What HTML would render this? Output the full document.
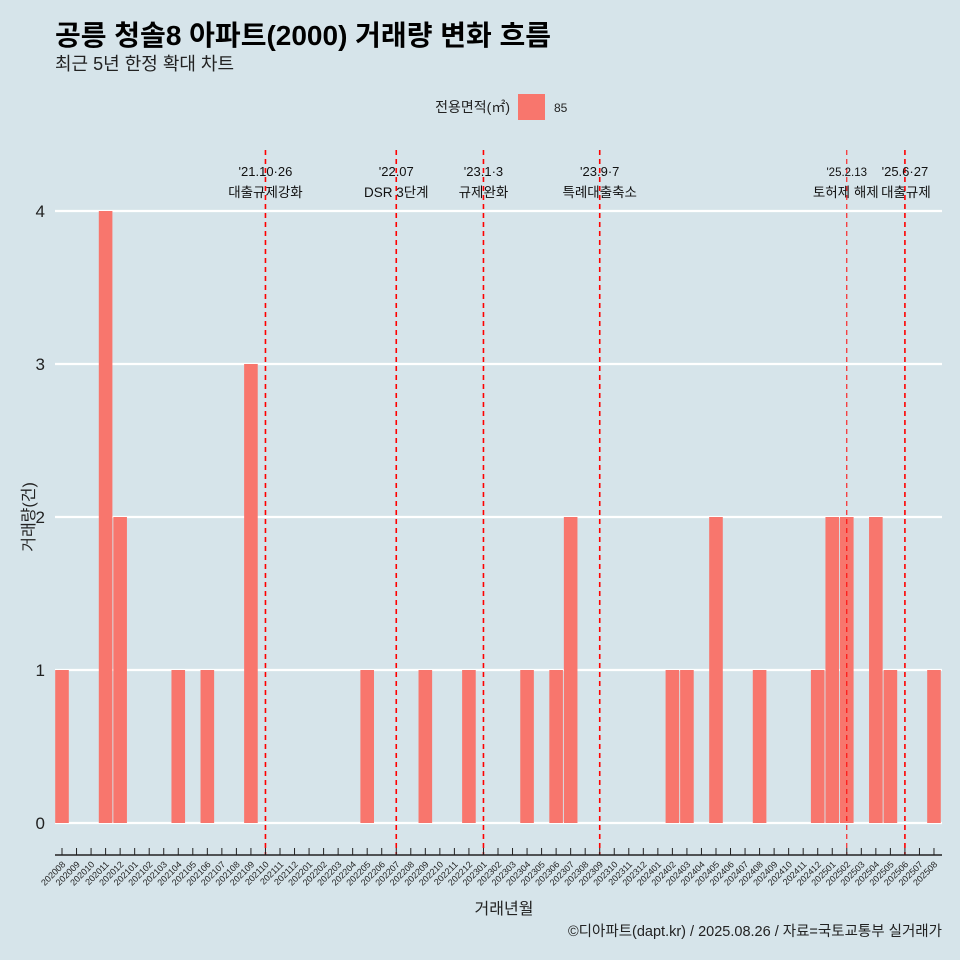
<!DOCTYPE html>
<html><head><meta charset="utf-8"><style>
body{margin:0;background:#d6e4ea;font-family:"Liberation Sans","Noto Sans CJK KR",sans-serif}
</style></head><body>
<svg id="c" width="960" height="960" xmlns="http://www.w3.org/2000/svg" style="display:block">
<rect width="960" height="960" fill="#d6e4ea"/>
<text x="55" y="45" font-size="28" font-weight="bold" fill="#000">공릉 청솔8 아파트(2000) 거래량 변화 흐름</text>
<text x="55" y="70" font-size="18" fill="#222">최근 5년 한정 확대 차트</text>
<text x="510" y="112" font-size="14" text-anchor="end" fill="#222">전용면적(㎡)</text>
<rect x="518" y="94" width="27" height="26" fill="#f8766d"/>
<text x="554" y="112" font-size="12" fill="#222">85</text>
<g id="grid"></g><g id="bars"></g><g id="events"></g><g id="axis"></g>
<text x="504" y="914" font-size="16" text-anchor="middle" fill="#222">거래년월</text>
<text transform="translate(34,517) rotate(-90)" font-size="16" text-anchor="middle" fill="#222">거래량(건)</text>
<text x="942" y="936" font-size="14.5" text-anchor="end" fill="#222">©디아파트(dapt.kr) / 2025.08.26 / 자료=국토교통부 실거래가</text>
</svg>
<script>
const months=[];for(let y=2020;y<=2025;y++)for(let m=1;m<=12;m++){const k=y*100+m;if(k>=202008&&k<=202508)months.push(String(k));}
const barMonths=["202008","202011","202012","202104","202106","202109","202205","202209","202212","202304","202306","202307","202402","202403","202405","202408","202412","202501","202502","202504","202505","202508"];
const barValues=[1,4,2,1,1,3,1,1,1,1,1,2,1,1,2,1,1,2,2,2,1,1];
const yTicks=[0,1,2,3,4];
const eventMonths=["202110","202207","202301","202309","202502","202506"];
const eventDates=["'21.10·26","'22.07","'23.1·3","'23.9·7","'25.2.13","'25.6·27"];
const eventLabels=["대출규제강화","DSR 3단계","규제완화","특례대출축소","토허제 해제","대출규제"];
const NS="http://www.w3.org/2000/svg";
const x0=62,step=14.533,y0=823,unit=153;
const X=m=>x0+months.indexOf(m)*step, Y=v=>y0-v*unit;
function mk(t,a,p){const e=document.createElementNS(NS,t);for(const k in a)e.setAttribute(k,a[k]);p.appendChild(e);return e;}
const grid=document.getElementById('grid'),bars=document.getElementById('bars'),ev=document.getElementById('events'),ax=document.getElementById('axis');
yTicks.forEach(v=>{const l=mk('line',{x1:55,x2:942,y1:Y(v),y2:Y(v),stroke:'#fff','stroke-width':2.2},grid);

const t=mk('text',{x:45,y:Y(v)+6,'font-size':17,'text-anchor':'end',fill:'#222'},grid);t.textContent=v;
});
barMonths.forEach((m,i)=>{const r=mk('rect',{x:X(m)-6.8,y:Y(barValues[i]),width:13.6,height:barValues[i]*unit,fill:'#f8766d'},bars);
});
eventMonths.forEach((m,i)=>{const x=X(m);const small=i===4;
const l=mk('line',{x1:x,x2:x,y1:150,y2:855,stroke:'#ff0000','stroke-width':small?1:1.6,'stroke-dasharray':'5,4'},ev);

const a=mk('text',{x:x,y:176,'font-size':small?11.5:13,'text-anchor':'middle',fill:'#111'},ev);a.textContent=eventDates[i];

const b=mk('text',{x:x+(i==4?-1:i==5?1:0),y:197,'font-size':13.5,'text-anchor':'middle',fill:'#111'},ev);b.textContent=eventLabels[i];
});
const al=mk('line',{x1:55,x2:942,y1:855,y2:855,stroke:'#222','stroke-width':1.5},ax);

months.forEach(m=>{const x=X(m);mk('line',{x1:x,x2:x,y1:848,y2:855,stroke:'#222','stroke-width':1},ax);
const t=mk('text',{transform:`translate(${x+4},865) rotate(-45)`,'font-size':9,'text-anchor':'end',fill:'#222'},ax);t.textContent=m;
});
</script>
</body></html>
